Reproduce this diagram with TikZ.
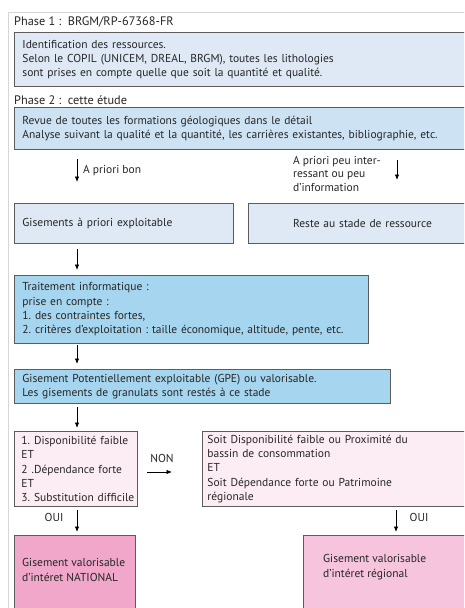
\documentclass[tikz,border=0pt]{standalone}
\usepackage{fontspec}
\setmainfont{PT Sans}
\usetikzlibrary{arrows.meta}
\definecolor{framec}{HTML}{D6D6D6}
\definecolor{edge}{HTML}{5C5C5C}
\definecolor{txt}{HTML}{262626}
\definecolor{blueA}{HTML}{DEE9F5}
\definecolor{blueB}{HTML}{CDE3F4}
\definecolor{blueC}{HTML}{A6D6EF}
\definecolor{pinkA}{HTML}{FCEDF4}
\definecolor{pinkB}{HTML}{F0A7CA}
\definecolor{pinkC}{HTML}{F6C4DD}
\frenchspacing
\begin{document}
\begin{tikzpicture}[x=1pt,y=-1pt,
  font=\fontsize{11.5}{14.3}\selectfont, text=txt,
  box/.style={draw=edge, line width=0.9pt, anchor=north west, inner xsep=8pt, inner ysep=0pt, align=left},
  lbl/.style={anchor=west, inner sep=0pt, align=left},
  phase/.style={anchor=west, inner sep=0pt, font=\fontsize{12.3}{14}\selectfont},
  arr/.style={-{Latex[length=5.5pt,width=4.5pt]}, line width=0.8pt, black}]
\useasboundingbox (0,0) rectangle (464,608);
\clip (0,0) rectangle (464,608);
\fill[white] (0,0) rectangle (464,608);
\draw[framec, line width=0.8pt] (8,620) -- (8,12) -- (480,12);

\node[phase] (p1) at (14,22) {Phase 1 :\ \ BRGM/RP-67368-FR};
\node[box, fill=blueA, minimum height=54pt, text width=444pt] (b1) at (14,32)
  {Identification des ressources.\\Selon le COPIL (UNICEM, DREAL, BRGM), toutes les lithologies\\sont prises en compte quelle que soit la quantité et qualité.};

\node[phase] (p2) at (14,100) {Phase 2 :\ \ cette étude};
\node[box, fill=blueB, minimum height=42pt, text width=444pt] (b2) at (14,107)
  {Revue de toutes les formations géologiques dans le détail\\Analyse suivant la qualité et la quantité, les carrières existantes, bibliographie, etc.};

\coordinate (a1s) at (77,159); \coordinate (a1e) at (77,182);
\draw[arr] (a1s) -- (a1e);
\node[lbl] (l1) at (83,171) {A priori bon};
\coordinate (a2s) at (397,160); \coordinate (a2e) at (397,180);
\draw[arr] (a2s) -- (a2e);
\node[lbl, anchor=north west, font=\fontsize{11.5}{13.5}\selectfont] (l2) at (293,156) {A priori peu inter-\\ressant ou peu\\d'information};

\node[box, fill=blueA, minimum height=40pt, text width=203pt] (g1) at (14,203) {Gisements à priori exploitable};
\node[box, fill=blueA, minimum height=40pt, text width=212pt, align=center] (g2) at (248,203) {Reste au stade de ressource};

\coordinate (a3s) at (77,249); \coordinate (a3e) at (77,270);
\draw[arr] (a3s) -- (a3e);

\node[box, fill=blueC, minimum height=68pt, text width=338pt] (t) at (14,275)
  {Traitement informatique :\\prise en compte~:\\1. des contraintes fortes,\\2. critères d'exploitation : taille économique, altitude, pente, etc.};

\coordinate (a4s) at (77,345); \coordinate (a4e) at (77,364);
\draw[arr] (a4s) -- (a4e);

\node[box, fill=blueC, minimum height=34pt, text width=360pt] (gpe) at (14,369)
  {Gisement Potentiellement exploitable (GPE) ou valorisable.\\Les gisements de granulats sont restés à ce stade};

\coordinate (a5s) at (77,407); \coordinate (a5e) at (77,428);
\draw[arr] (a5s) -- (a5e);

\node[box, fill=pinkA, minimum height=75pt, text width=117pt, inner xsep=3pt] (c1) at (14,431)
  {\mbox{\hspace*{4pt}1. Disponibilité faible}\\\mbox{\hspace*{4pt}ET}\\\mbox{\hspace*{4pt}2 .Dépendance forte}\\\mbox{\hspace*{4pt}ET}\\\mbox{\hspace*{4pt}3. Substitution difficile}};

\node[lbl, anchor=center] (non) at (162,458) {NON};
\coordinate (a6s) at (147,472); \coordinate (a6e) at (172,472);
\draw[arr] (a6s) -- (a6e);

\node[box, fill=pinkA, minimum height=75pt, text width=260pt, inner xsep=5pt] (c2) at (202,431)
  {Soit Disponibilité faible ou Proximité du\\bassin de consommation\\ET\\Soit Dépendance forte ou Patrimoine\\régionale};

\node[lbl, anchor=center] (oui1) at (54,517) {OUI};
\coordinate (a7s) at (77,510); \coordinate (a7e) at (77,532);
\draw[arr] (a7s) -- (a7e);
\node[lbl, anchor=center] (oui2) at (419,517) {OUI};
\coordinate (a8s) at (396,510); \coordinate (a8e) at (396,532);
\draw[arr] (a8s) -- (a8e);

\node[box, fill=pinkB, minimum height=90pt, minimum width=121pt] (n) at (14,535) {};
\node[lbl, font=\fontsize{11.5}{14.5}\selectfont] (nt) at (22,570) {Gisement valorisable\\d'intéret NATIONAL};
\node[box, fill=pinkC, minimum height=90pt, minimum width=180pt] (r) at (303,535) {};
\node[lbl, font=\fontsize{11.5}{14.5}\selectfont] (rt) at (323,567) {Gisement valorisable\\d'intéret régional};
\end{tikzpicture}
\end{document}
